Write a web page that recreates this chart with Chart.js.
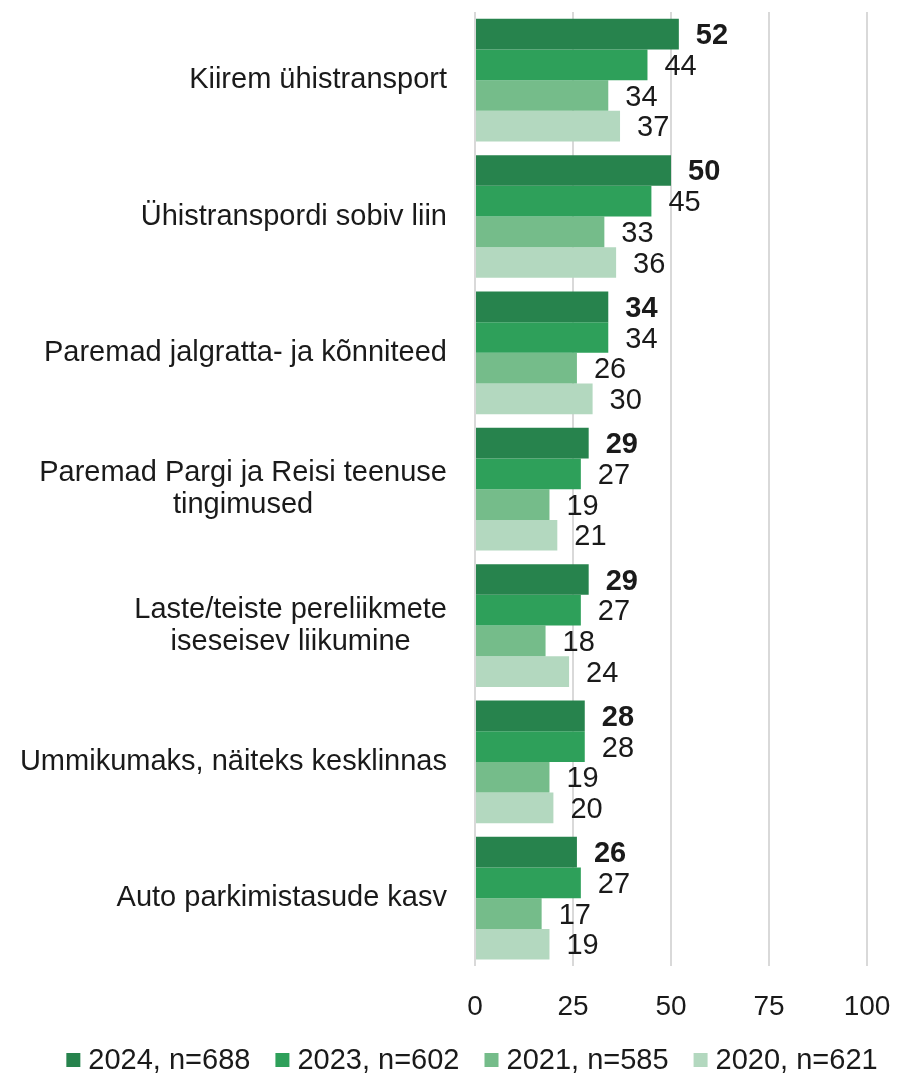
<!DOCTYPE html>
<html>
<head>
<meta charset="utf-8">
<script src="https://cdn.jsdelivr.net/npm/chart.js@4"></script>
<style>
  body{ margin:0; background:#fff; }
  #wrap{ width:897px; height:1076px; position:relative; }
</style>
</head>
<body>
<div id="wrap"><canvas id="chart"></canvas></div>
<script>
// ---------- Data ----------

const categories = [
  ["Kiirem ühistransport"],
  ["Ühistranspordi sobiv liin"],
  ["Paremad jalgratta- ja kõnniteed"],
  ["Paremad Pargi ja Reisi teenuse", "tingimused"],
  ["Laste/teiste pereliikmete", "iseseisev liikumine"],
  ["Ummikumaks, näiteks kesklinnas"],
  ["Auto parkimistasude kasv"]
];

const seriesNames = ["2024, n=688", "2023, n=602", "2021, n=585", "2020, n=621"];

const values2024 = [52, 50, 34, 29, 29, 28, 26];
const values2023 = [44, 45, 34, 27, 27, 28, 27];
const values2021 = [34, 33, 26, 19, 18, 19, 17];
const values2020 = [37, 36, 30, 21, 24, 20, 19];

const xTicks = [0, 25, 50, 75, 100];

const colors = ["#27834D", "#2EA05A", "#75BC8A", "#B3D8BF"];

const FONT = "'Liberation Sans', Arial, sans-serif";
const TEXT = "#1a1a1a";

// ---------- Plugins ----------

// category labels: block right-aligned, lines centred inside the block
const categoryLabels = {
  id: "categoryLabels",
  afterDraw(chart){
    const ctx = chart.ctx;
    const y = chart.scales.y;
    const right = chart.chartArea.left - 28;
    const lh = 32;
    ctx.save();
    ctx.font = "29px " + FONT;
    ctx.fillStyle = TEXT;
    ctx.textAlign = "center";
    ctx.textBaseline = "middle";
    categories.forEach((lines, i) => {
      const cy = y.getPixelForValue(i);
      const w = Math.max(...lines.map(l => ctx.measureText(l).width));
      const cx = right - w / 2;
      const y0 = cy - (lines.length - 1) * lh / 2;
      lines.forEach((l, k) => ctx.fillText(l, cx, y0 + k * lh));
    });
    ctx.restore();
  }
};

// value labels at bar ends
const valueLabels = {
  id: "valueLabels",
  afterDatasetsDraw(chart){
    const ctx = chart.ctx;
    ctx.save();
    ctx.fillStyle = TEXT;
    ctx.textAlign = "left";
    ctx.textBaseline = "middle";
    chart.data.datasets.forEach((ds, di) => {
      const meta = chart.getDatasetMeta(di);
      ctx.font = (di === 0 ? "bold " : "") + "29px " + FONT;
      meta.data.forEach((bar, i) => {
        ctx.fillText(String(ds.data[i]), bar.x + 17, bar.y + 2);
      });
    });
    ctx.restore();
  }
};

// legend row at the bottom (Excel style: small square, short gap)
const bottomLegend = {
  id: "bottomLegend",
  afterDraw(chart){
    const ctx = chart.ctx;
    const box = 14, gap = 8, spacing = 25, cy = 1060, centre = 472;
    ctx.save();
    ctx.font = "29px " + FONT;
    ctx.textBaseline = "middle";
    ctx.textAlign = "left";
    const items = chart.data.datasets.map(ds => ({
      label: ds.label, color: ds.backgroundColor, w: ctx.measureText(ds.label).width
    }));
    const total = items.reduce((s, it) => s + box + gap + it.w, 0) + spacing * (items.length - 1);
    let x = centre - total / 2;
    items.forEach(it => {
      ctx.fillStyle = it.color;
      ctx.fillRect(x, cy - box / 2, box, box);
      x += box + gap;
      ctx.fillStyle = TEXT;
      ctx.fillText(it.label, x, cy + 1);
      x += it.w + spacing;
    });
    ctx.restore();
  }
};

// ---------- Chart ----------

const datasets = [values2024, values2023, values2021, values2020].map((d, i) => ({
  label: seriesNames[i],
  data: d,
  backgroundColor: colors[i],
  borderWidth: 0,
  categoryPercentage: 0.9,
  barPercentage: 1.0
}));

new Chart(document.getElementById("chart"), {
  type: "bar",
  data: {
    labels: categories.map(c => c.join(" ")),
    datasets: datasets
  },
  options: {
    indexAxis: "y",
    responsive: true,
    maintainAspectRatio: false,
    animation: false,
    layout: { padding: { top: 12, right: 30, bottom: 28, left: 0 } },
    scales: {
      x: {
        min: 0,
        max: 100,
        afterBuildTicks(scale){ scale.ticks = xTicks.map(v => ({ value: v })); },
        afterFit(scale){ scale.paddingLeft = 0; scale.paddingRight = 0; },
        grid: { color: "#D9D9D9", lineWidth: 2, drawTicks: false },
        border: { display: false },
        ticks: {
          padding: 24,
          maxRotation: 0,
          color: TEXT,
          font: { family: FONT, size: 28 }
        }
      },
      y: {
        grid: { display: false },
        border: { display: false },
        ticks: { display: false },
        afterFit(scale){ scale.width = 475; }
      }
    },
    plugins: {
      legend: { display: false },
      tooltip: { enabled: false }
    }
  },
  plugins: [categoryLabels, valueLabels, bottomLegend]
});
</script>
</body>
</html>
